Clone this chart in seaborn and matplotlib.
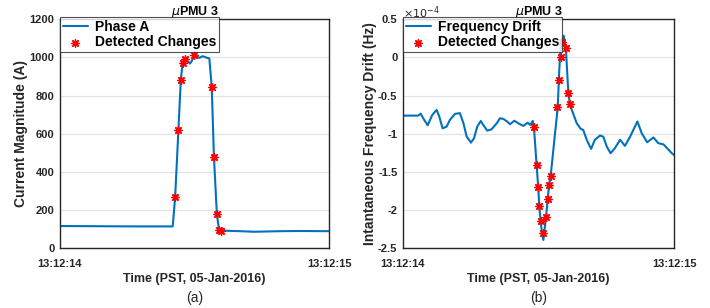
import numpy as np
import pandas as pd
import matplotlib
matplotlib.use("Agg")
import matplotlib.pyplot as plt
import seaborn as sns

# (a) phase A current magnitude, time in seconds after 13:12:14
t_a = [0.0, 0.149, 0.297, 0.419, 0.428, 0.44, 0.449, 0.456, 0.465, 0.483, 0.491,
       0.499, 0.518, 0.530, 0.543, 0.555, 0.564, 0.572, 0.583, 0.591, 0.599,
       0.669, 0.721, 0.818, 0.892, 1.0]
amp_a = [115, 114, 113, 113, 270, 617, 884, 972, 995, 968, 985,
         1012, 998, 1007, 1000, 995, 844, 480, 177, 95, 91,
         88, 85, 88, 89, 88]
det_t_a = [0.428, 0.44, 0.449, 0.456, 0.465, 0.499, 0.564, 0.572, 0.583, 0.591, 0.599]
det_a = [270, 617, 884, 972, 993, 1012, 844, 480, 177, 95, 91]

# (b) frequency drift, units of 1e-4 Hz
t_b = [0.001, 0.056, 0.065, 0.075, 0.091, 0.108, 0.124, 0.134, 0.146, 0.161, 0.173,
       0.192, 0.21, 0.223, 0.235, 0.251, 0.262, 0.274, 0.287, 0.296, 0.311, 0.327,
       0.346, 0.358, 0.37, 0.385, 0.395, 0.411, 0.425, 0.444, 0.46, 0.469, 0.479,
       0.483, 0.493, 0.499, 0.503, 0.508, 0.513, 0.518, 0.528, 0.534, 0.539, 0.545,
       0.571, 0.575, 0.579, 0.584, 0.593, 0.601, 0.61, 0.616, 0.623, 0.641, 0.656,
       0.665, 0.678, 0.694, 0.708, 0.727, 0.739, 0.752, 0.766, 0.782, 0.801, 0.819,
       0.838, 0.865, 0.881, 0.901, 0.924, 0.942, 0.961, 0.992, 1.0]
drift_b = [-0.763, -0.763, -0.737, -0.80, -0.89, -0.754, -0.688, -0.776, -0.93, -0.907, -0.82,
           -0.74, -0.73, -0.863, -1.039, -1.117, -1.06, -0.907, -0.833, -0.885, -0.96, -0.942,
           -0.863, -0.797, -0.806, -0.842, -0.876, -0.83, -0.863, -0.898, -0.855, -0.885, -0.833,
           -0.907, -1.41, -1.708, -1.958, -2.15, -2.307, -2.395, -2.09, -1.857, -1.668, -1.55,
           -0.653, -0.294, 0.0, 0.195, 0.287, 0.122, -0.46, -0.613, -0.688, -0.863, -0.937,
           -0.951, -1.08, -1.2, -1.08, -1.025, -1.039, -1.17, -1.257, -1.19, -1.08, -1.16,
           -1.039, -0.84, -0.995, -1.113, -1.05, -1.125, -1.14, -1.257, -1.28]
det_t_b = [0.484, 0.493, 0.499, 0.503, 0.508, 0.516, 0.529, 0.534, 0.539, 0.545,
           0.569, 0.576, 0.582, 0.587, 0.6, 0.61, 0.617]
det_b = [-0.915, -1.406, -1.70, -1.95, -2.145, -2.307, -2.09, -1.852, -1.668, -1.558,
         -0.653, -0.294, 0.0, 0.2, 0.122, -0.47, -0.613]

sns.set_style("white")
plt.rcParams['font.family'] = ['Liberation Sans', 'DejaVu Sans']

blue = '#0072BD'
dark = '#262626'
star = (8, 2, 0)

fig = plt.figure(figsize=(7.1, 3.08), dpi=100)
ax1 = fig.add_axes([0.0845, 0.195, 0.379, 0.742])
ax2 = fig.add_axes([0.5676, 0.195, 0.3817, 0.742])

df_a = pd.DataFrame({'t': t_a, 'v': amp_a})
dfd_a = pd.DataFrame({'t': det_t_a, 'v': det_a})
df_b = pd.DataFrame({'t': t_b, 'v': drift_b})
dfd_b = pd.DataFrame({'t': det_t_b, 'v': det_b})

sns.lineplot(x='t', y='v', data=df_a, ax=ax1, color=blue, lw=1.5, label='Phase A', sort=False)
sns.scatterplot(x='t', y='v', data=dfd_a, ax=ax1, marker=star, color='red', s=28,
                linewidth=1.0, edgecolor='red', label='Detected Changes', zorder=3)
sns.lineplot(x='t', y='v', data=df_b, ax=ax2, color=blue, lw=1.5, label='Frequency Drift', sort=False)
sns.scatterplot(x='t', y='v', data=dfd_b, ax=ax2, marker=star, color='red', s=28,
                linewidth=1.0, edgecolor='red', label='Detected Changes', zorder=3)

ax1.set_ylim(0, 1200)
ax1.set_yticks(range(0, 1201, 200))
ax2.set_ylim(-2.5, 0.5)
ax2.set_yticks([-2.5, -2, -1.5, -1, -0.5, 0, 0.5])
ax2.set_yticklabels(['-2.5', '-2', '-1.5', '-1', '-0.5', '0', '0.5'])

for ax, ylab, cap in [(ax1, 'Current Magnitude (A)', '(a)'),
                      (ax2, 'Intantaneous Frequency Drift (Hz)', '(b)')]:
    ax.set_xlim(0, 1)
    ax.set_xticks([0, 1])
    ax.set_xticklabels(['13:12:14', '13:12:15'])
    ax.grid(axis='y', color='#e3e3e3', lw=0.9)
    ax.set_axisbelow(True)
    for s in ax.spines.values():
        s.set_color(dark)
        s.set_linewidth(1.0)
    ax.tick_params(direction='in', length=3, colors=dark, labelsize=8)
    ax.tick_params(axis='x', pad=8)
    ax.tick_params(axis='y', pad=4)
    for lab in ax.get_xticklabels() + ax.get_yticklabels():
        lab.set_fontweight('bold')
    ax.set_xlabel('Time (PST, 05-Jan-2016)', fontsize=9, fontweight='bold', color=dark, labelpad=3)
    ax.set_ylabel(ylab, fontsize=10, fontweight='bold', color=dark, labelpad=1)
    ax.set_title(r'$\mu$PMU 3', fontsize=9, fontweight='bold', color='black', pad=3)
    ax.text(0.5, -0.19, cap, transform=ax.transAxes, ha='center', va='top', fontsize=10)
    leg = ax.legend(loc='upper left', bbox_to_anchor=(0.0, 1.01), fontsize=10, frameon=True,
                    fancybox=False, borderpad=0.2, labelspacing=0.1, handlelength=1.8,
                    handletextpad=0.5, borderaxespad=0)
    leg.get_frame().set_edgecolor(dark)
    leg.get_frame().set_linewidth(0.8)
    for txt in leg.get_texts():
        txt.set_fontweight('bold')
        txt.set_color('black')

ax2.text(0.0, 0.995, r'$\times10^{-4}$', transform=ax2.transAxes, ha='left', va='bottom',
         fontsize=8, color=dark)

fig.savefig('out.png', dpi=100)
